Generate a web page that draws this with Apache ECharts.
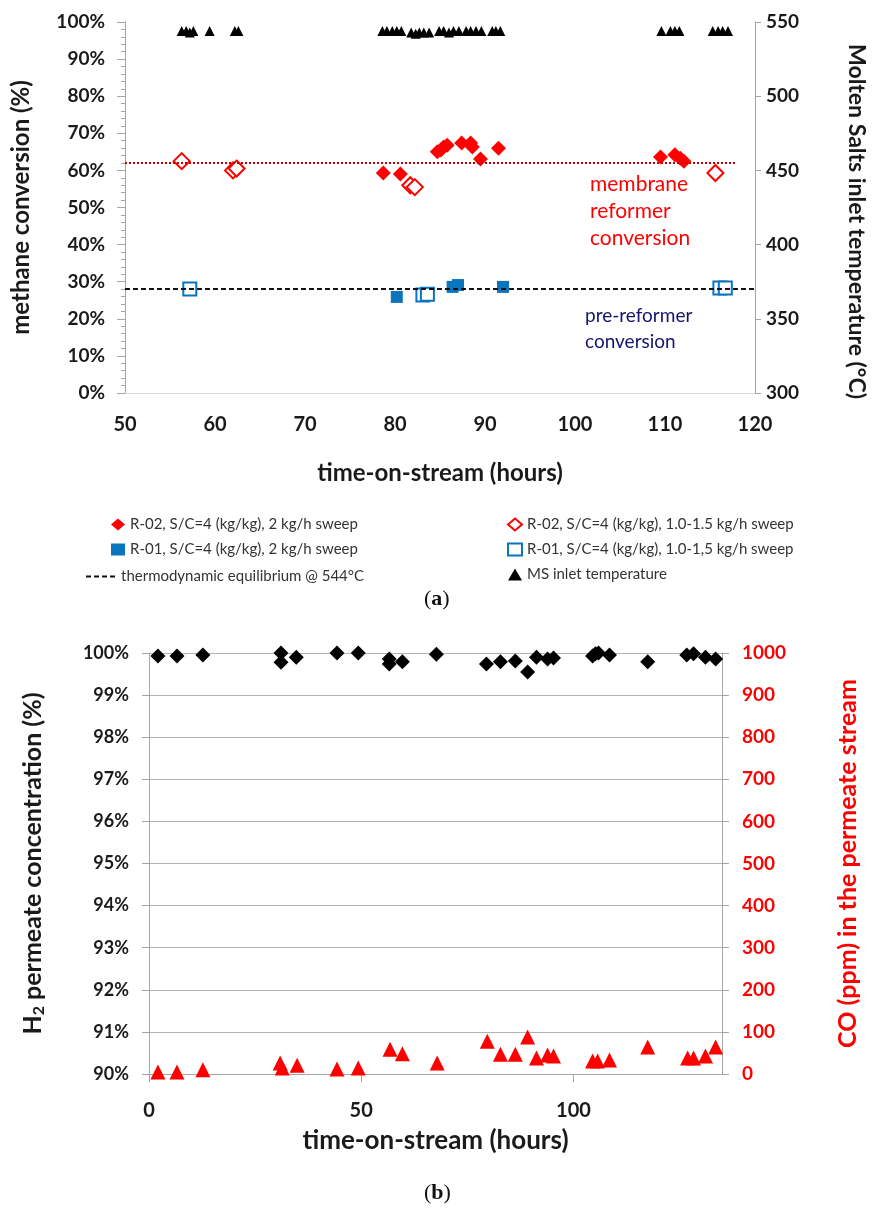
<!DOCTYPE html>
<html><head><meta charset="utf-8">
<script src="https://cdn.jsdelivr.net/npm/echarts@6/dist/echarts.min.js"></script>
<style>html,body{margin:0;padding:0;background:#fff}#c{width:876px;height:1218px}</style>
</head><body><div id="c"></div>
<script>
// ---------- Chart (a) data ----------
const aXTicks = [50, 120, 10];           // min, max, interval (hours)
const aYLeft = [0, 100, 10];             // methane conversion %
const aYRight = [300, 550, 50];          // MS inlet temperature °C
const r02Sweep2 = [[78.7,59.3],[80.6,59.0],[84.7,65.0],[85.1,65.5],[85.4,66.3],[85.8,66.8],[87.4,67.4],[88.4,67.4],[88.6,66.3],[89.5,63.1],[91.5,66.0],[109.5,63.6],[111.1,64.2],[111.7,63.3],[112.1,62.5]];
const r02Sweep15 = [[56.3,62.5],[62.0,60.0],[62.4,60.5],[81.7,56.0],[82.2,55.5],[115.6,59.3]];
const r01Sweep2 = [[80.2,25.9],[86.4,28.6],[87.0,29.1],[92.0,28.6]];
const r01Sweep15 = [[57.2,28.0],[83.1,26.4],[83.6,26.6],[116.1,28.3],[116.7,28.3]];
const msTemp = [[56.3,544],[56.8,544],[57.2,543],[57.6,544],[59.4,544],[62.2,544],[62.6,544],
  [78.6,544],[79.1,544],[79.7,544],[80.2,544],[80.7,544],[81.8,543],[82.3,542],[82.7,543],[83.2,543],[83.8,543],
  [84.9,544],[85.4,544],[86.0,543],[86.5,544],[87.1,544],[87.9,544],[88.4,544],[89.0,544],[89.6,544],
  [90.8,544],[91.2,544],[91.7,544],[109.6,544],[110.6,544],[111.1,544],[111.6,544],
  [115.3,544],[115.9,544],[116.4,544],[117.0,544]];
const equilibrium = [[50,28.0],[120,28.0]];
const membraneAvg = [[50,62.0],[118,62.0]];

// ---------- Chart (b) data ----------
const bXTicks = [0, 135, 50];
const bYLeft = [90, 100, 1];
const bYRight = [0, 1000, 100];
const h2Conc = [[2.1,99.93],[6.6,99.93],[12.7,99.95],[31.1,100.0],[31.1,99.78],[34.7,99.9],[44.3,100.0],[49.3,100.0],
  [56.6,99.86],[56.6,99.74],[59.7,99.79],[67.7,99.97],[79.5,99.74],[82.8,99.79],[86.3,99.81],[89.2,99.55],
  [91.3,99.9],[93.9,99.86],[95.3,99.88],[104.5,99.93],[105.2,99.98],[105.9,100.0],[108.5,99.95],[117.5,99.79],
  [126.7,99.95],[128.3,99.98],[131.1,99.9],[133.5,99.86]];
const coPpm = [[2.1,5],[6.6,5],[12.7,10],[30.9,26],[31.4,14],[34.9,21],[44.3,12],[49.3,14],[56.8,59],[59.7,48],
  [67.9,26],[79.7,78],[82.8,47],[86.3,47],[89.2,88],[91.3,38],[93.9,45],[95.3,43],[104.5,31],[105.7,31],
  [108.5,33],[117.5,64],[126.9,38],[128.3,38],[131.1,43],[133.5,64]];

const F = 'Lato, "Open Sans", sans-serif';
const RED = '#ff0000', BLUE = '#0a74bd', GRAY = '#a6a6a6';
const tickLbl = (sz, col) => ({fontFamily: F, fontWeight: 'bold', fontSize: sz, color: col || '#1a1a1a'});
const plain = v => String(v);

const chart = echarts.init(document.getElementById('c'), null, {renderer: 'canvas'});
chart.setOption({
  animation: false,
  backgroundColor: '#fff',
  grid: [
    {left: 125, top: 22, width: 632, height: 371},
    {left: 149, top: 653, width: 573, height: 421}
  ],
  xAxis: [
    {gridIndex: 0, type: 'value', min: aXTicks[0], max: aXTicks[1], interval: aXTicks[2],
     axisLine: {show: true, lineStyle: {color: '#d9d9d9'}}, axisTick: {show: false}, splitLine: {show: false},
     axisLabel: Object.assign({margin: 22}, tickLbl(20)),
     name: 'time-on-stream (hours)', nameLocation: 'middle', nameGap: 68,
     nameTextStyle: tickLbl(24)},
    {gridIndex: 1, type: 'value', min: bXTicks[0], max: bXTicks[1], interval: bXTicks[2],
     axisLine: {show: true, onZero: false, lineStyle: {color: GRAY}},
     axisTick: {show: true, inside: false, length: 8, lineStyle: {color: GRAY}}, splitLine: {show: false},
     axisLabel: Object.assign({margin: 27, showMaxLabel: false}, tickLbl(20)),
     name: 'time-on-stream (hours)', nameLocation: 'middle', nameGap: 54,
     nameTextStyle: tickLbl(26)}
  ],
  yAxis: [
    {gridIndex: 0, type: 'value', position: 'left', min: aYLeft[0], max: aYLeft[1], interval: aYLeft[2],
     axisLine: {show: true, lineStyle: {color: GRAY}},
     axisTick: {show: true, length: 8, lineStyle: {color: GRAY}},
     minorTick: {show: true, splitNumber: 5, length: 4, lineStyle: {color: GRAY}},
     splitLine: {show: false},
     axisLabel: Object.assign({margin: 20, formatter: '{value}%'}, tickLbl(19)),
     name: 'methane conversion (%)', nameLocation: 'middle', nameRotate: 90, nameGap: 92,
     nameTextStyle: tickLbl(24)},
    {gridIndex: 0, type: 'value', position: 'right', min: aYRight[0], max: aYRight[1], interval: aYRight[2],
     axisLine: {show: true, lineStyle: {color: GRAY}},
     axisTick: {show: true, length: 6, lineStyle: {color: GRAY}},
     splitLine: {show: false},
     axisLabel: Object.assign({margin: 11, formatter: plain}, tickLbl(19)),
     name: 'Molten Salts inlet temperature (°C)', nameLocation: 'middle', nameRotate: -90, nameGap: 90,
     nameTextStyle: Object.assign({padding: [0, 0, 0, 28]}, tickLbl(23))},
    {gridIndex: 1, type: 'value', position: 'left', min: bYLeft[0], max: bYLeft[1], interval: bYLeft[2],
     axisLine: {show: true, lineStyle: {color: GRAY}},
     axisTick: {show: true, length: 7, lineStyle: {color: GRAY}},
     splitLine: {show: true, lineStyle: {color: '#b3b3b3', width: 1.2}},
     axisLabel: Object.assign({margin: 20, formatter: '{value}%'}, tickLbl(18)),
     name: '{a|H}{s|2}{a| permeate concentration (%)}', nameLocation: 'middle', nameRotate: 90, nameGap: 102,
     nameTextStyle: {rich: {a: tickLbl(25), s: Object.assign({verticalAlign: 'bottom', padding: [12,0,0,0]}, tickLbl(16))}}},
    {gridIndex: 1, type: 'value', position: 'right', min: bYRight[0], max: bYRight[1], interval: bYRight[2],
     axisLine: {show: true, lineStyle: {color: GRAY}},
     axisTick: {show: true, length: 7, lineStyle: {color: GRAY}},
     splitLine: {show: false},
     axisLabel: Object.assign({margin: 20, formatter: plain}, tickLbl(19, RED)),
     name: 'CO (ppm) in the permeate stream', nameLocation: 'middle', nameRotate: 90, nameGap: 113,
     nameTextStyle: tickLbl(25, RED)}
  ],
  legend: [
    {left: 106, top: 512, orient: 'vertical', itemGap: 10, itemWidth: 14, itemHeight: 12,
     textStyle: {fontFamily: F, fontSize: 15, color: '#333'},
     data: ['R-02, S/C=4 (kg/kg), 2 kg/h sweep', 'R-01, S/C=4 (kg/kg), 2 kg/h sweep']},
    {left: 80, top: 564, orient: 'vertical', itemWidth: 30, itemHeight: 12, itemGap: 2,
     textStyle: {fontFamily: F, fontSize: 15, color: '#333'},
     data: [{name: 'thermodynamic equilibrium @ 544°C', itemStyle: {opacity: 0}}]},
    {left: 502, top: 512, orient: 'vertical', itemGap: 10, itemWidth: 14, itemHeight: 12,
     textStyle: {fontFamily: F, fontSize: 15, color: '#333'},
     data: ['R-02, S/C=4 (kg/kg), 1.0-1.5 kg/h sweep', 'R-01, S/C=4 (kg/kg), 1.0-1,5 kg/h sweep', 'MS inlet temperature']}
  ],
  series: [
    {name: 'membrane average', type: 'line', xAxisIndex: 0, yAxisIndex: 0, data: membraneAvg, symbol: 'none',
     lineStyle: {color: '#c00000', width: 2, type: [2, 2]}, silent: true},
    {name: 'thermodynamic equilibrium @ 544°C', type: 'line', xAxisIndex: 0, yAxisIndex: 0, data: equilibrium, symbol: 'none',
     lineStyle: {color: '#111', width: 2, type: [5, 3]}, itemStyle: {color: '#111'}},
    {name: 'R-02, S/C=4 (kg/kg), 2 kg/h sweep', type: 'scatter', xAxisIndex: 0, yAxisIndex: 0, data: r02Sweep2,
     symbol: 'diamond', symbolSize: 15, itemStyle: {color: RED, opacity: 1}},
    {name: 'R-02, S/C=4 (kg/kg), 1.0-1.5 kg/h sweep', type: 'scatter', xAxisIndex: 0, yAxisIndex: 0, data: r02Sweep15,
     symbol: 'emptyDiamond', symbolSize: 16, itemStyle: {color: RED, borderColor: RED, borderWidth: 3, opacity: 1}},
    {name: 'R-01, S/C=4 (kg/kg), 2 kg/h sweep', type: 'scatter', xAxisIndex: 0, yAxisIndex: 0, data: r01Sweep2,
     symbol: 'rect', symbolSize: 12, itemStyle: {color: BLUE, opacity: 1}},
    {name: 'R-01, S/C=4 (kg/kg), 1.0-1,5 kg/h sweep', type: 'scatter', xAxisIndex: 0, yAxisIndex: 0, data: r01Sweep15,
     symbol: 'emptyRect', symbolSize: 13, itemStyle: {color: BLUE, borderColor: BLUE, borderWidth: 3, opacity: 1}},
    {name: 'MS inlet temperature', type: 'scatter', xAxisIndex: 0, yAxisIndex: 1, data: msTemp,
     symbol: 'triangle', symbolSize: 10, itemStyle: {color: '#000', opacity: 1}},
    {name: 'H2', type: 'scatter', xAxisIndex: 1, yAxisIndex: 2, data: h2Conc,
     symbol: 'diamond', symbolSize: 15, itemStyle: {color: '#000', opacity: 1}},
    {name: 'CO', type: 'scatter', xAxisIndex: 1, yAxisIndex: 3, data: coPpm,
     symbol: 'triangle', symbolSize: 15, itemStyle: {color: RED, opacity: 1}}
  ],
  graphic: [
    {type: 'text', left: 590, top: 171, style: {text: 'membrane\nreformer\nconversion', fill: RED,
      font: '21px ' + F, lineHeight: 27}},
    {type: 'text', left: 585, top: 303, style: {text: 'pre-reformer\nconversion', fill: '#14146e',
      font: '19px ' + F, lineHeight: 26}},
    {type: 'text', left: 424, top: 588, style: {text: '({b|a})', font: '22px "Liberation Serif", serif', fill: '#111',
      rich: {b: {fontFamily: '"Liberation Serif", serif', fontWeight: 'bold', fontSize: 22, fill: '#111'}}}},
    {type: 'text', left: 424, top: 1182, style: {text: '({b|b})', font: '22px "Liberation Serif", serif', fill: '#111',
      rich: {b: {fontFamily: '"Liberation Serif", serif', fontWeight: 'bold', fontSize: 22, fill: '#111'}}}}
  ]
});
</script></body></html>
